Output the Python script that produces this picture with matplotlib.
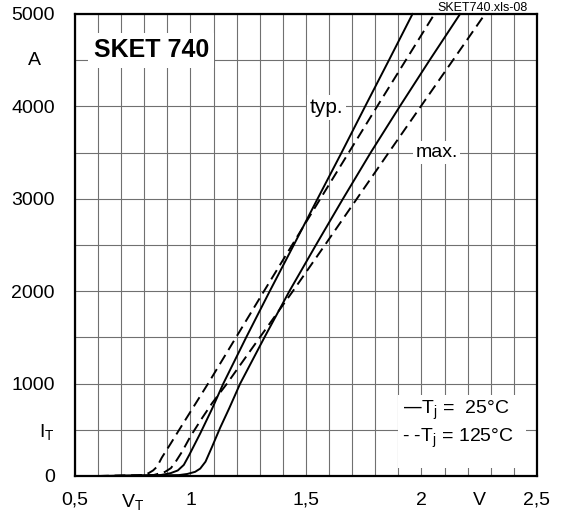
import matplotlib
matplotlib.use("Agg")
import matplotlib.pyplot as plt
import numpy as np

plt.rcParams['font.family'] = ['Liberation Sans', 'DejaVu Sans']
plt.rcParams['mathtext.default'] = 'regular'

# forward characteristic, I_T in A and V_T in V
typ25_I = [0, 10, 30, 60, 120, 230, 460, 720, 1000, 1500, 2000, 2500, 3000, 3500, 4000, 4500, 5000]
typ25_V = [0.6, 0.87, 0.913, 0.945, 0.971, 0.995, 1.042, 1.092, 1.142, 1.241, 1.343, 1.447, 1.55,
           1.654, 1.756, 1.859, 1.961]

typ125_I = [0, 5, 15, 30, 60, 100, 200, 350, 500, 700, 1000, 1500, 2000, 2500, 3000, 3500, 4000, 4500, 5000]
typ125_V = [0.6, 0.77, 0.80, 0.818, 0.838, 0.855, 0.876, 0.914, 0.951, 1.001, 1.076, 1.197, 1.318, 1.44,
            1.562, 1.685, 1.808, 1.932, 2.056]

max25_I = [0, 10, 22, 45, 80, 155, 320, 520, 735, 1000, 1500, 2000, 2500, 3000, 3500, 4000, 4500, 5000]
max25_V = [0.65, 0.95, 0.986, 1.02, 1.042, 1.065, 1.094, 1.128, 1.168, 1.215, 1.32, 1.428, 1.543, 1.66,
           1.78, 1.906, 2.035, 2.167]

max125_I = [0, 10, 45, 85, 155, 265, 430, 630, 790, 1000, 1500, 2000, 2500, 3000, 3500, 4000, 4500, 5000]
max125_V = [0.6, 0.84, 0.89, 0.915, 0.936, 0.964, 1.0, 1.051, 1.094, 1.158, 1.30, 1.443, 1.582,
            1.72, 1.858, 1.997, 2.136, 2.275]

xtick_pos = [0.5, 0.75, 1.0, 1.5, 2.0, 2.25, 2.5]
xtick_labels = ['0,5', '$V_T$', '1', '1,5', '2', 'V', '2,5']
ytick_pos = [0, 500, 1000, 2000, 3000, 4000, 5000]
ytick_labels = ['0', '$I_T$', '1000', '2000', '3000', '4000', '5000']

fig = plt.figure(figsize=(5.61, 5.15), dpi=100)
ax = fig.add_axes([75 / 561, 39 / 515, 462 / 561, 462 / 515])

ax.set_xlim(0.5, 2.5)
ax.set_ylim(0, 5000)

# grid on minor ticks only (keep the ones under major ticks too)
ax.xaxis.remove_overlapping_locs = False
ax.yaxis.remove_overlapping_locs = False
ax.set_xticks(np.arange(0.5, 2.51, 0.1), minor=True)
ax.set_yticks(np.arange(0, 5001, 500), minor=True)
ax.grid(which='minor', color='#707070', lw=0.8, zorder=0)
ax.grid(which='major', visible=False)
ax.set_xticks(xtick_pos)
ax.set_xticklabels(xtick_labels, fontsize=14)
ax.set_yticks(ytick_pos)
ax.set_yticklabels(ytick_labels, fontsize=14)
ax.tick_params(which='both', length=0)
ax.tick_params(axis='x', pad=11.5)
ax.tick_params(axis='y', pad=14.5)

for s in ax.spines.values():
    s.set_linewidth(1.6)
    s.set_zorder(5)

ax.plot(typ25_V, typ25_I, color='black', lw=1.4, zorder=3, clip_on=False)
ax.plot(max25_V, max25_I, color='black', lw=1.4, zorder=3, clip_on=False)
ax.plot(typ125_V, typ125_I, color='black', lw=1.4, dashes=(5.5, 3), zorder=3, clip_on=False)
ax.plot(max125_V, max125_I, color='black', lw=1.4, dashes=(5.5, 3), zorder=3, clip_on=False)

white = dict(facecolor='white', edgecolor='none', pad=2)
ax.text(0.83, 4610, 'SKET 740', fontsize=18, fontweight='bold', ha='center', va='center',
        bbox=dict(facecolor='white', edgecolor='none', pad=4), zorder=4)
ax.text(1.587, 3990, 'typ.', fontsize=15, ha='center', va='center', bbox=white, zorder=4)
ax.text(2.065, 3500, 'max.', fontsize=14, ha='center', va='center', bbox=white, zorder=4)

# y unit label
ax.text(-0.087, 4500, 'A', fontsize=14, ha='center', va='center',
        transform=ax.get_yaxis_transform())

ax.text(0.98, 1.0, 'SKET740.xls-08', fontsize=9, ha='right', va='bottom',
        transform=ax.transAxes)

# legend box
ax.add_patch(plt.Rectangle((1.898, 90), 0.555, 790, facecolor='white', edgecolor='none', zorder=4))
ax.text(1.915, 715, '\u2014T$_j$ =  25°C', fontsize=14, ha='left', va='center', zorder=5)
ax.text(1.915, 410, '- -T$_j$ = 125°C', fontsize=14, ha='left', va='center', zorder=5)

fig.savefig('out.png', dpi=100)
